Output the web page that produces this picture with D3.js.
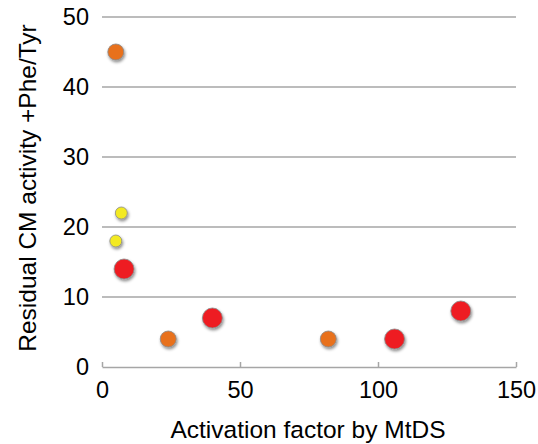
<!DOCTYPE html>
<html><head><meta charset="utf-8">
<script src="https://cdn.jsdelivr.net/npm/d3@7"></script>
<style>
html,body{margin:0;padding:0;background:#fff;}
text{font-family:"Liberation Sans",Arial,sans-serif;fill:#000;}
</style></head>
<body>
<svg id="c" width="538" height="444"></svg>
<script>
const xValues = [5, 7, 5, 8, 24, 40, 82, 106, 130];
const yValues = [45, 22, 18, 14, 4, 7, 4, 4, 8];
const groups  = ["orange","yellow","yellow","red","orange","red","orange","red","red"];
const xTicks = [0, 50, 100, 150];
const yTicks = [0, 10, 20, 30, 40, 50];
const xTitle = "Activation factor by MtDS";
const yTitle = "Residual CM activity +Phe/Tyr";

const colors = {orange:"#E8711F", yellow:"#F3EA20", red:"#EE1F24"};
const radii = {orange:8, yellow:6, red:10};

const svg = d3.select("#c");
const x = d3.scaleLinear().domain([0,150]).range([102,516]);
const y = d3.scaleLinear().domain([0,50]).range([367,17]);

const defs = svg.append("defs");
const f = defs.append("filter").attr("id","sh").attr("x","-50%").attr("y","-50%").attr("width","200%").attr("height","200%");
f.append("feDropShadow").attr("dx",1).attr("dy",2).attr("stdDeviation",1.5).attr("flood-color","#000").attr("flood-opacity",0.45);

// gridlines
svg.append("g").selectAll("line").data(yTicks.filter(d=>d>0)).join("line")
  .attr("x1",x(0)).attr("x2",x(150)).attr("y1",d=>y(d)).attr("y2",d=>y(d))
  .attr("stroke","#a6a6a6").attr("stroke-width",1.5);

// x axis
const xa = svg.append("g").attr("transform",`translate(0,${y(0)})`)
  .call(d3.axisBottom(x).tickValues(xTicks).tickSize(-5).tickPadding(14).tickSizeOuter(0));
xa.select(".domain").attr("stroke","#a6a6a6").attr("stroke-width",1.5);
xa.selectAll(".tick line").attr("stroke","#a6a6a6").attr("stroke-width",1.5);
xa.selectAll(".tick text").attr("font-size",23.5).attr("font-family","Liberation Sans, Arial, sans-serif").attr("fill","#000");

// y axis labels
const ya = svg.append("g").attr("transform",`translate(${x(0)},0)`)
  .call(d3.axisLeft(y).tickValues(yTicks).tickSize(0).tickPadding(13));
ya.select(".domain").remove();
ya.selectAll(".tick text").attr("font-size",23.5).attr("font-family","Liberation Sans, Arial, sans-serif").attr("fill","#000");

// titles
svg.append("text").attr("x",308).attr("y",438).attr("text-anchor","middle")
  .attr("font-size",24.5).text(xTitle);
svg.append("text").attr("transform","translate(36,188) rotate(-90)").attr("text-anchor","middle")
  .attr("font-size",24.5).text(yTitle);

// points
const pts = xValues.map((v,i)=>({x:v,y:yValues[i],g:groups[i]}));
svg.append("g").selectAll("circle").data(pts).join("circle")
  .attr("cx",d=>x(d.x)).attr("cy",d=>y(d.y)).attr("r",d=>radii[d.g])
  .attr("fill",d=>colors[d.g]).attr("stroke","#8a8a8a").attr("stroke-width",0.8)
  .attr("filter","url(#sh)");
</script>
</body></html>
